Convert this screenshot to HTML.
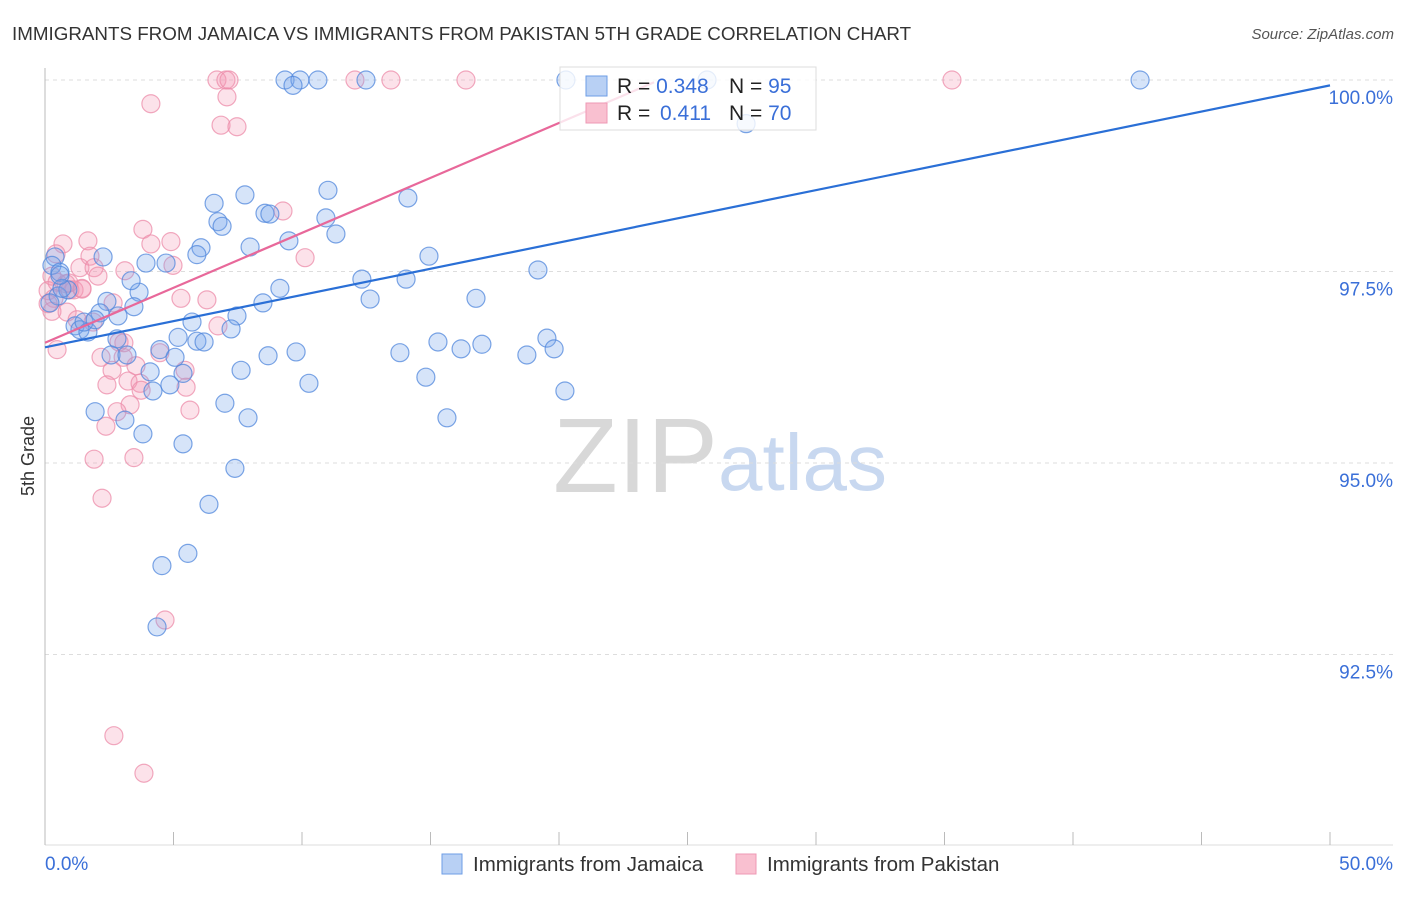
<!DOCTYPE html>
<html><head><meta charset="utf-8"><style>
body{margin:0;background:#fff;font-family:"Liberation Sans",sans-serif;}
svg text{font-family:"Liberation Sans",sans-serif;}
</style></head><body>
<svg id="chart" width="1406" height="892" xmlns="http://www.w3.org/2000/svg">
<text x="12" y="40" font-size="18.8" fill="#333">IMMIGRANTS FROM JAMAICA VS IMMIGRANTS FROM PAKISTAN 5TH GRADE CORRELATION CHART</text>
<text x="1394" y="39" font-size="15" fill="#555" text-anchor="end" font-style="italic">Source: ZipAtlas.com</text>
<text x="34" y="456" font-size="18" fill="#333" text-anchor="middle" transform="rotate(-90 34 456)">5th Grade</text>
<g>
<text x="553" y="492" font-size="106" fill="#d8d8d8" font-family="Liberation Serif,serif">ZIP</text>
<text x="718" y="490" font-size="80" fill="#c8d8f0">atlas</text>
</g>
<g id="grid"></g><g id="axes"></g><g id="pts"></g><g id="trends"></g>
<g>
<rect x="560" y="67" width="256" height="63" fill="#fff" fill-opacity="0.8" stroke="#ddd"/>
<rect x="586" y="76" width="21" height="20" fill="#b8d0f4" stroke="#6e9ee6"/>
<rect x="586" y="103" width="21" height="20" fill="#f9c0d0" stroke="#ee98b4"/>
<text x="617" y="93" font-size="21" fill="#222">R = <tspan fill="#3a6fd8">0.348</tspan><tspan x="729">N = </tspan><tspan fill="#3a6fd8">95</tspan></text>
<text x="617" y="120" font-size="21" fill="#222">R = <tspan x="660" fill="#3a6fd8">0.411</tspan><tspan x="729">N = </tspan><tspan fill="#3a6fd8">70</tspan></text>
</g>
<g>
<rect x="442" y="854" width="20" height="20" fill="#b8d0f4" stroke="#6e9ee6"/>
<text x="473" y="871" font-size="20.5" fill="#333">Immigrants from Jamaica</text>
<rect x="736" y="854" width="20" height="20" fill="#f9c0d0" stroke="#ee98b4"/>
<text x="767" y="871" font-size="20.5" fill="#333">Immigrants from Pakistan</text>
</g>
</svg>
<script>
const blueX=[20.27,9.34,9.92,10.62,12.49,9.65,42.61,25.76,27.28,6.58,6.73,6.89,7.78,8.56,8.75,11.01,10.93,11.32,14.12,9.49,7.98,6.07,5.91,2.26,3.93,4.71,14.94,19.18,12.33,14.05,9.14,8.48,12.65,16.77,3.66,3.35,2.41,3.46,0.39,0.27,0.58,0.51,0.19,2.14,2.84,7.47,7.24,5.72,5.18,2.80,5.91,6.19,4.47,5.06,2.57,3.19,8.68,9.77,13.81,15.29,16.19,17.00,18.75,19.53,19.81,7.63,4.09,5.37,4.86,4.20,10.27,14.82,20.23,7.00,7.90,15.64,1.95,3.11,3.81,5.37,7.39,6.38,5.56,4.55,4.36,1.17,1.36,1.67,1.52,1.95,0.89,0.66,0.58];
const blueY=[100,100,100,100,100,99.93,100,100,99.43,98.39,98.15,98.09,98.50,98.26,98.25,98.56,98.20,97.99,98.46,97.90,97.82,97.81,97.72,97.69,97.61,97.61,97.70,97.52,97.40,97.40,97.28,97.09,97.14,97.15,97.23,97.38,97.11,97.04,97.69,97.58,97.49,97.18,97.09,96.96,96.92,96.92,96.75,96.84,96.64,96.62,96.59,96.58,96.48,96.38,96.41,96.41,96.40,96.45,96.44,96.58,96.49,96.55,96.41,96.63,96.49,96.21,96.19,96.17,96.02,95.94,96.04,96.12,95.94,95.78,95.59,95.59,95.67,95.56,95.38,95.25,94.93,94.46,93.82,93.66,92.86,96.79,96.74,96.71,96.84,96.87,97.26,97.28,97.45];
const pinkX=[6.69,7.04,7.16,12.06,13.46,16.38,35.29,4.12,7.08,6.85,7.47,9.26,3.81,4.90,0.70,1.67,4.12,0.43,1.75,4.98,1.36,1.91,2.06,3.11,0.27,0.47,0.82,0.97,1.13,1.44,0.12,0.35,0.12,2.65,5.29,6.30,10.12,0.27,0.86,1.87,6.73,0.47,2.18,2.88,3.04,4.47,2.61,3.54,5.45,2.41,3.23,3.70,3.31,2.80,5.49,5.64,3.74,2.37,1.91,3.46,2.22,4.67,2.68,3.85,1.44,0.93,1.25,3.07];
const pinkY=[100,100,100,100,100,100,100,99.69,99.78,99.41,99.39,98.29,98.05,97.89,97.86,97.90,97.86,97.73,97.70,97.58,97.55,97.55,97.44,97.51,97.44,97.36,97.34,97.26,97.26,97.27,97.25,97.15,97.08,97.09,97.15,97.13,97.68,96.98,96.97,96.84,96.79,96.48,96.38,96.58,96.38,96.44,96.21,96.27,96.21,96.02,96.07,96.04,95.76,95.67,95.99,95.69,95.95,95.48,95.05,95.07,94.54,92.95,91.44,90.95,97.28,97.35,96.87,96.57];
const blueTrend=[0,96.51,50,99.93];
const pinkTrend=[0,96.57,23.7,99.97];
const yTicks=[100,97.5,95,92.5];
const yTickLabels=["100.0%","97.5%","95.0%","92.5%"];
const xTicks=[0,5,10,15,20,25,30,35,40,45,50];
const NS="http://www.w3.org/2000/svg";
const X=v=>45+(v/50)*1285;
const Y=v=>80+(100-v)/2.5*191.5;
function mk(tag,attrs,parent){const e=document.createElementNS(NS,tag);for(const k in attrs)e.setAttribute(k,attrs[k]);parent.appendChild(e);return e;}
const grid=document.getElementById('grid'),axes=document.getElementById('axes'),pts=document.getElementById('pts'),tr=document.getElementById('trends');
yTicks.forEach((t,i)=>{
 const l=mk('line',{x1:45,x2:1393,y1:Y(t),y2:Y(t),stroke:'#ddd','stroke-dasharray':'4,4'},grid);
 
 
 const tx=mk('text',{x:1393,y:Y(t)+24,'font-size':19,fill:'#3a6fd8','text-anchor':'end'},axes);
 tx.textContent=yTickLabels[i];
 
 
});
mk('line',{x1:45,x2:45,y1:68,y2:845,stroke:'#bbb'},axes);
mk('line',{x1:45,x2:1393,y1:845,y2:845,stroke:'#ddd'},axes);
xTicks.forEach(t=>{
 const l=mk('line',{x1:X(t),x2:X(t),y1:832,y2:845,stroke:'#bbb'},axes);
 
 
});
const x0=mk('text',{x:45,y:870,'font-size':19,fill:'#3a6fd8'},axes);x0.textContent='0.0%';


const x1=mk('text',{x:1393,y:870,'font-size':19,fill:'#3a6fd8','text-anchor':'end'},axes);x1.textContent='50.0%';


pinkX.forEach((v,i)=>{
 const c=mk('circle',{cx:X(v),cy:Y(pinkY[i]),r:9,fill:'rgba(244,150,180,0.28)',stroke:'rgba(236,140,170,0.75)','stroke-width':1.2},pts);
 
 
});
blueX.forEach((v,i)=>{
 const c=mk('circle',{cx:X(v),cy:Y(blueY[i]),r:9,fill:'rgba(120,165,235,0.3)',stroke:'rgba(80,135,220,0.75)','stroke-width':1.2},pts);
 
 
});
const bl=mk('line',{x1:X(blueTrend[0]),y1:Y(blueTrend[1]),x2:X(blueTrend[2]),y2:Y(blueTrend[3]),stroke:'#2a6fd6','stroke-width':2.2},tr);


const pl=mk('line',{x1:X(pinkTrend[0]),y1:Y(pinkTrend[1]),x2:X(pinkTrend[2]),y2:Y(pinkTrend[3]),stroke:'#e8689a','stroke-width':2.2},tr);


</script>
</body></html>
